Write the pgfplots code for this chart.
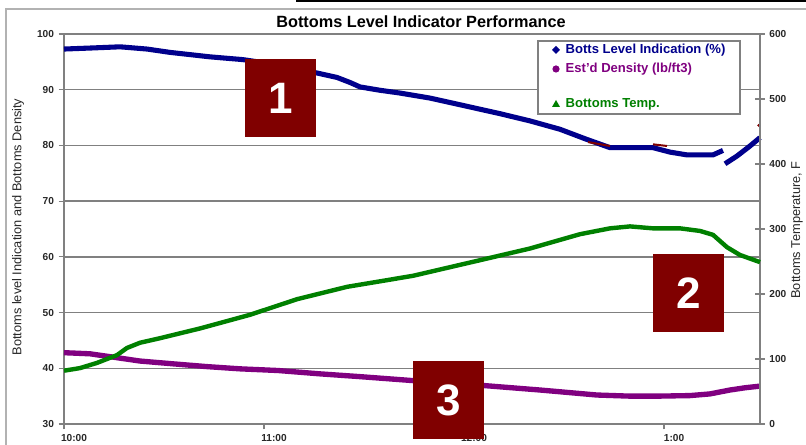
\documentclass[border=0pt]{standalone}
\usepackage{fontspec}
\setmainfont{Liberation Sans}
\usepackage{pgfplots}
\pgfplotsset{compat=1.18}

\definecolor{lvl}{RGB}{0,0,140}
\definecolor{den}{RGB}{128,0,128}
\definecolor{tmp}{RGB}{0,128,0}
\definecolor{boxc}{RGB}{128,0,0}
\definecolor{gridc}{RGB}{128,128,128}
\definecolor{labc}{RGB}{40,40,40}

\pgfplotsset{
  common/.style={
    at={(48pt,15.75pt)}, anchor=south west,
    scale only axis, width=522pt, height=292.5pt,
    xmin=0, xmax=208.8, clip=false,
    axis line style={gridc, line width=1pt},
    tick style={gridc, line width=0.8pt},
    ticklabel style={font=\bfseries\fontsize{7.6}{9}\selectfont, text=labc},
    /pgf/number format/assume math mode=true,
  }
}

\begin{document}
\begin{tikzpicture}
\fill[white] (0,0) rectangle (604.5pt,333.75pt);

% left axis: level and density
\begin{axis}[common,
  ymin=30, ymax=100,
  axis x line*=bottom, axis y line*=left,
  xtick={0,60,120,180}, xticklabels={10:00,11:00,12:00,1:00},
  xticklabel style={xshift=7.5pt},
  ytick={30,40,...,100},
  ymajorgrids, grid style={gridc, line width=1pt},
  tick align=outside, major tick length=4pt,
]
\addplot[lvl, line width=3.8pt, line join=round] coordinates {
  (0,97.3) (8.7,97.5) (16.8,97.7) (24.9,97.3) (31.8,96.7) (43.8,95.9)
  (53.7,95.4) (64.8,94.4) (75.9,93.0) (81.9,92.2) (85.8,91.3) (88.8,90.5)
  (94.8,89.9) (100.8,89.4) (109.8,88.5) (121.8,86.9) (130.8,85.7)
  (139.8,84.4) (148.8,82.9) (156.3,81.2) (163.8,79.6) (176.7,79.6)
  (181.8,78.8) (186.9,78.3) (194.7,78.3) (197.7,79.1)
};
\addplot[lvl, line width=3.8pt, line join=round] coordinates {
  (198.3,76.7) (201.9,78.1) (205.8,79.9) (208.8,81.4)
};
\addplot[boxc, line width=1.5pt] coordinates {(157.2,80.6) (163.8,79.9)};
\addplot[boxc, line width=1.5pt] coordinates {(176.7,80.2) (180.9,79.9)};
\addplot[boxc, only marks, mark=*, mark size=0.8pt] coordinates {(208.4,83.6)};
\addplot[den, line width=4pt, line join=round] coordinates {
  (0,42.8) (7.8,42.6) (15.9,41.9) (22.8,41.3) (32.7,40.8) (42.9,40.3)
  (52.8,39.9) (64.2,39.6) (76.8,39.0) (88.8,38.5) (104.4,37.8) (126,36.9)
  (142.8,36.1) (159.9,35.2) (169.8,35.0) (178.2,35.0) (187.8,35.1)
  (193.8,35.4) (199.8,36.1) (204.3,36.5) (208.8,36.8)
};
\end{axis}

% right axis: temperature
\begin{axis}[common,
  ymin=0, ymax=600,
  axis x line=none, axis y line*=right,
  ytick={0,100,...,600},
  tick align=center, major tick length=7pt,
]
\addplot[tmp, line width=3.3pt, line join=round] coordinates {
  (0,82) (4.8,86) (9.9,94) (15.9,106) (18.9,117) (22.8,125) (28.8,132)
  (40.8,147) (55.8,168) (69.9,192) (84.9,211) (104.7,228) (124.8,252)
  (139.8,270) (154.8,292) (163.8,301) (169.8,304) (176.7,301) (184.8,301)
  (190.8,297) (194.7,291) (198.9,272) (202.8,260) (208.8,249)
};
\end{axis}

% overlay in pixel units, origin at top left
\begin{scope}[x=0.75pt, y=-0.75pt, yshift=333.75pt]
  \draw[gray!60, line width=1pt] (6,445) -- (6,9) -- (806,9);
  \draw[black, line width=1.5pt] (296,1) -- (806,1);
  \node[font=\bfseries\fontsize{12.2}{14}\selectfont] at (421,22)
    {Bottoms Level Indicator Performance};

  % legend
  \draw[gridc, line width=1.2pt, fill=white] (538,41) rectangle (740,114);
  \fill[lvl] (556,46) -- (560,50) -- (556,54) -- (552,50) -- cycle;
  \fill[den] (556,69) circle (2.7pt);
  \fill[tmp] (556,100) -- (560,107) -- (552,107) -- cycle;
  \begin{scope}[font=\bfseries\fontsize{9.8}{11}\selectfont]
    \node[anchor=west, text=lvl] at (561,50) {Botts Level Indication (\%)};
    \node[anchor=west, text=den] at (561,69) {Est'd Density (lb/ft3)};
    \node[anchor=west, text=tmp] at (561,104) {Bottoms Temp.};
  \end{scope}

  % axis titles
  \node[rotate=90, font=\fontsize{9.6}{11}\selectfont, text=labc] at (18,227)
    {Bottoms level Indication and Bottoms Density};
  \node[rotate=90, font=\fontsize{9.6}{11}\selectfont, text=labc] at (797,230)
    {Bottoms Temperature, F};

  % numbered boxes
  \begin{scope}[font=\bfseries\fontsize{33}{33}\selectfont]
    \fill[boxc] (245,59) rectangle (316,137);
    \node[text=white] at (280.5,98) {1};
    \fill[boxc] (653,254) rectangle (724,332);
    \node[text=white] at (688.5,293) {2};
    \fill[boxc] (413,361) rectangle (484,439);
    \node[text=white] at (448.5,400) {3};
  \end{scope}
\end{scope}

\pgfresetboundingbox
\path[use as bounding box] (0,0) rectangle (604.5pt,333.75pt);
\end{tikzpicture}
\end{document}
